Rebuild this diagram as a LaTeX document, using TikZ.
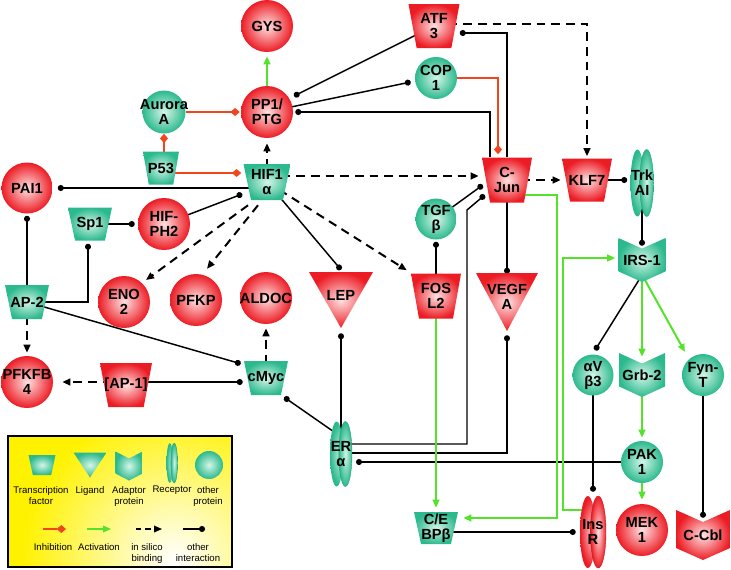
\documentclass[tikz,border=0pt]{standalone}
\usepackage{fontspec}
\setmainfont{Liberation Sans}
\usetikzlibrary{arrows.meta,calc,backgrounds}
\definecolor{redlo}{HTML}{EC1C24}
\definecolor{redhi}{HTML}{FFE2E2}
\definecolor{grnlo}{HTML}{2CB98D}
\definecolor{grnhi}{HTML}{D4F6E8}
\definecolor{inhcol}{HTML}{F0461E}
\definecolor{actcol}{HTML}{55E22A}
\definecolor{legy}{HTML}{FFF200}
\newcommand{\nl}[1]{\makebox[0pt]{#1}}
\tikzset{
  lbl/.style={font=\fontsize{11}{11.3}\selectfont\bfseries,inner sep=0pt,align=center},
  rball/.style={lbl,circle,minimum size=#1*0.75pt,inner color=redhi,outer color=redlo},
  gball/.style={lbl,circle,minimum size=#1*0.75pt,inner color=grnhi,outer color=grnlo},
  tfac/.style n args={3}{lbl,minimum width=#1*0.75pt,minimum height=#2*0.75pt,
    path picture={\shade[inner color=#3hi,outer color=#3lo]
      (path picture bounding box.north west) -- (path picture bounding box.north east)
      -- ($(path picture bounding box.south east)!.16!(path picture bounding box.south west)$)
      -- ($(path picture bounding box.south west)!.16!(path picture bounding box.south east)$) -- cycle;}},
  ligand/.style n args={3}{lbl,minimum width=#1*0.75pt,minimum height=#2*0.75pt,text depth=7pt,
    path picture={\shade[inner color=#3hi,outer color=#3lo]
      (path picture bounding box.north west) -- (path picture bounding box.north east)
      -- (path picture bounding box.south) -- cycle;}},
  adapt/.style n args={3}{lbl,minimum width=#1*0.75pt,minimum height=#2*0.75pt,
    path picture={\shade[inner color=#3hi,outer color=#3lo]
      (path picture bounding box.north west)
      -- ($(path picture bounding box.north)!.24!(path picture bounding box.south)$)
      -- (path picture bounding box.north east)
      -- ($(path picture bounding box.south east)!.24!(path picture bounding box.north east)$)
      -- (path picture bounding box.south)
      -- ($(path picture bounding box.south west)!.24!(path picture bounding box.north west)$) -- cycle;}},
  recep/.style n args={3}{lbl,minimum width=#1*0.75pt,minimum height=#2*0.75pt,
    path picture={
      \shade[inner color=#3hi,outer color=#3lo] ([xshift=-#1*0.15pt]path picture bounding box.center)
        ellipse [x radius=#1*0.225pt,y radius=#2*0.375pt];
      \shadedraw[inner color=#3hi,outer color=#3lo,draw=#3lo!85!black,line width=0.3pt]
        ([xshift=#1*0.15pt]path picture bounding box.center) ellipse [x radius=#1*0.225pt,y radius=#2*0.375pt];}},
  legbox/.style={draw=black,line width=0.8pt,minimum width=224*0.75pt,minimum height=131*0.75pt,
    path picture={\fill[legy] (path picture bounding box.south west) rectangle (path picture bounding box.north east);
      \shade[inner color=white,outer color=legy] ([shift={(41pt,-44pt)}]path picture bounding box.center) circle (115pt);}},
  legtxt/.style={font=\fontsize{7.2}{8.3}\selectfont,align=center,inner sep=0pt,anchor=north},
  inh/.style={draw=inhcol,line width=1.1pt,-{Diamond[length=7pt,width=6pt,fill=inhcol]}},
  act/.style={draw=actcol,line width=1.5pt,-{Triangle[length=6pt,width=5pt]}},
  sil/.style={draw=black,line width=1.5pt,dash pattern=on 6.5pt off 4.5pt,-{Triangle[length=6pt,width=5pt]}},
  oth/.style={draw=black,line width=1.1pt,-{Circle[length=4.5pt]}},
}
\begin{document}
\begin{tikzpicture}[x=0.75pt,y=-0.75pt]
\useasboundingbox (0,0) rectangle (731,569);
\node[rball=52] (gys) at (267,26) {\nl{GYS}};
\node[rball=52] (pp1) at (267,112) {\nl{PP1/}\\\nl{PTG}};
\node[gball=43] (aur) at (164,112) {\nl{Aurora}\\\nl{A}};
\node[tfac={36}{33}{grn}] (p53) at (161,168) {\nl{P53}};
\node[tfac={47}{36}{grn}] (hif) at (267,182) {\nl{HIF1}\\\nl{α}};
\node[rball=51] (pai) at (27,188) {\nl{PAI1}};
\node[tfac={44}{33}{grn}] (sp1) at (90,224) {\nl{Sp1}};
\node[rball=52] (hph) at (164,224) {\nl{HIF-}\\\nl{PH2}};
\node[rball=52] (eno) at (124,302) {\nl{ENO}\\\nl{2}};
\node[rball=52] (pfkp) at (196,300) {\nl{PFKP}};
\node[rball=52] (aldoc) at (266,298) {\nl{ALDOC}};
\node[ligand={64}{56}{red}] (lep) at (341,300) {\nl{LEP}};
\node[tfac={50}{45}{red}] (fos) at (436,296) {\nl{FOS}\\\nl{L2}};
\node[ligand={62}{58}{red}] (vegf) at (507,302) {\nl{VEGF}\\\nl{A}};
\node[gball=41] (tgf) at (436,219) {\nl{TGF}\\\nl{β}};
\node[tfac={50}{45}{red}] (cjun) at (507,180) {\nl{C-}\\\nl{Jun}};
\node[tfac={50}{43}{red}] (klf) at (587,180) {\nl{KLF7}};
\node[recep={23}{67}{grn}] (trk) at (642,183) {\nl{Trk}\\\nl{AI}};
\node[adapt={47}{44}{grn}] (irs) at (642,260) {\nl{IRS-1}};
\node[tfac={51}{44}{red}] (atf) at (434,26) {\nl{ATF}\\\nl{3}};
\node[gball=42] (cop) at (436,78) {\nl{COP}\\\nl{1}};
\node[tfac={44}{34}{grn}] (ap2) at (27,302) {\nl{AP-2}};
\node[rball=52] (pfkfb) at (27,382) {\nl{PFKFB}\\\nl{4}};
\node[tfac={52}{44}{red}] (ap1) at (126,385) {\nl{[AP-1]}};
\node[tfac={44}{34}{grn}] (cmyc) at (266,378) {\nl{cMyc}};
\node[recep={22}{65}{grn}] (era) at (341,454) {\nl{ER}\\\nl{α}};
\node[gball=41] (av) at (593,375) {\nl{αV}\\\nl{β3}};
\node[adapt={46}{44}{grn}] (grb) at (642,375) {\nl{Grb-2}};
\node[gball=42] (fyn) at (703,375) {\nl{Fyn-}\\\nl{T}};
\node[gball=42] (pak) at (642,462) {\nl{PAK}\\\nl{1}};
\node[rball=52] (mek) at (642,530) {\nl{MEK}\\\nl{1}};
\node[recep={26}{72}{red}] (insr) at (593,532) {\nl{Ins}\\\nl{R}};
\node[adapt={54}{50}{red}] (ccbl) at (703,535) {\nl{C-Cbl}};
\node[tfac={44}{32}{grn}] (ceb) at (436,528) {\nl{C/E}\\\nl{BPβ}};
\begin{scope}[on background layer]
\draw[oth] ($(hif.center)+(0,6)$) -- ($(pai.east)+(5,0)$);
\draw[oth] (hph.center) -- ($(hif.west)+(-1,12)$);
\draw[oth] (sp1.center) -- ($(hph.west)+(-3,0)$);
\draw[oth] (hif.center) -- ($(lep.north)+(0,-2)$);
\draw[oth] (atf.center) -- ($(pp1.center)+(27,-16)$);
\draw[oth] (pp1.center) -- ($(cop.west)+(-4,4)$);
\draw[oth] ($(cjun.north)+(-17,0)$) |- ($(pp1.east)+(2,0)$);
\draw[oth] (cjun.north) |- ($(atf.east)+(0,7)$);
\draw[oth] (klf.center) -- ($(klf.center -| trk.west)+(-3,0)$);
\draw[oth] (trk.center) -- ($(irs.north)+(0,8)$);
\draw[oth] (tgf.center) -- ($(cjun.west)+(1,5)$);
\draw[oth] ($(era.center)+(0,-10)$) -| ($(cjun.center)+(-40,30)$) -- ($(cjun.west)+(3,15)$);
\draw[oth] ($(era.center)+(0,-1)$) -| ($(vegf.south)+(0,4)$);
\draw[oth] (pak.center) -- ($(era.center)+(15,8)$);
\draw[oth] (era.center) -- ($(lep.south)+(0,5)$);
\draw[oth] ($(era.center)+(-4,-20)$) -- ($(cmyc.south east)+(-4,2)$);
\draw[oth] (cjun.center) -- ($(vegf.north)+(0,1)$);
\draw[oth] (fos.center) -- ($(tgf.south)+(0,2)$);
\draw[oth] ($(irs.south)+(-2,-4)$) -- ($(av.north)+(2,-4)$);
\draw[oth] (av.center) -- ($(insr.north)+(0,-4)$);
\draw[oth] (fyn.center) -- ($(ccbl.north)+(0,8)$);
\draw[oth] ($(ceb.center)+(0,4)$) -- ($(insr.west)+(-4,0)$);
\draw[oth] (ap2.center) -- ($(pai.south)+(0,2)$);
\draw[oth] (ap2.center) -| ($(sp1.south)+(-2,3)$);
\draw[oth] (ap2.center) -- ($(cmyc.north west)+(-3,3)$);
\draw[oth] ($(ap1.center)+(0,-3)$) -- ($(cmyc.west)+(-1,4)$);
\draw[sil] (hif.center) -- ($(pp1.south)+(0,5)$);
\draw[sil] ($(hif.center)+(0,-6)$) -- ($(cjun.west)+(-3,-4)$);
\draw[sil] ($(hif.south)+(-19,5)$) -- ($(eno.center)+(22,-22)$);
\draw[sil] ($(hif.south)+(-9,5)$) -- ($(pfkp.north)+(11,-5)$);
\draw[sil] (hif.center) -- ($(fos.north west)+(-4,-3)$);
\draw[sil] ($(atf.center)+(0,-2)$) -| ($(klf.north)+(0,-2)$);
\draw[sil] (cjun.center) -- ($(klf.west)+(-1,0)$);
\draw[sil] (ap2.center) -- ($(pfkfb.north)+(0,-3)$);
\draw[sil] ($(ap1.center)+(0,-3)$) -- ($(pfkfb.east)+(9,0)$);
\draw[sil] (cmyc.center) -- ($(aldoc.south)+(0,4)$);
\draw[inh] (aur.east) -- ($(pp1.west)+(-1,0)$);
\draw[inh] (p53.center -| aur.south) -- (aur.south);
\draw[inh] ($(p53.center)+(0,5)$) -- ($(hif.west)+(-2,-9)$);
\draw[inh] (cop.center) -| ($(cjun.north)+(-9,-3)$);
\draw[act] (pp1) -- ($(gys.south)+(0,4)$);
\draw[act] (fos.center) -- ($(ceb.north)+(0,-4)$);
\draw[act] ($(cjun.center)+(0,15)$) -| ($(ceb.center)+(121,-10)$) -- ($(ceb.east)+(5,-10)$);
\draw[act] ($(insr.center)+(0,-22)$) -| ($(irs.west)+(-55,-2)$) -- ($(irs.west)+(-3,-2)$);
\draw[act] ($(irs.south)+(0,-4)$) -- ($(grb.north)+(0,4)$);
\draw[act] ($(irs.south)+(2,-4)$) -- ($(fyn.north west)+(-3,-8)$);
\draw[act] (grb.center) -- ($(pak.north)+(0,-3)$);
\draw[act] (pak.center) -- ($(mek.north)+(0,-4)$);
\end{scope}
% legend
\node[legbox] (legend) at (120,501.5) {};
\node[tfac={27}{20}{grn}] (lgtf) at (42,465) {};
\node[ligand={33}{25}{grn}] (lglig) at (90,465) {};
\node[adapt={27}{29}{grn}] (lgadp) at (129,466) {};
\node[recep={11}{40}{grn}] (lgrec) at (172,463) {};
\node[gball=28] (lgoth) at (209,465) {};
\node[legtxt] (ltf) at (41,486) {Transcription\\factor};
\node[legtxt] (llig) at (90,486) {Ligand};
\node[legtxt] (ladp) at (129,486) {Adaptor\\protein};
\node[legtxt] (lrec) at (172,486) {Receptor};
\node[legtxt] (loth) at (208,486) {other\\protein};
\coordinate (inh1) at (43,529); \coordinate (inh2) at (66,529);
\coordinate (act1) at (87,529); \coordinate (act2) at (111,529);
\coordinate (sil1) at (136,529); \coordinate (sil2) at (162,529);
\coordinate (oth1) at (183,529); \coordinate (oth2) at (205,529);
\draw[inh,line width=0.8pt] (inh1) -- (inh2);
\draw[act,line width=1pt] (act1) -- (act2);
\draw[sil,line width=1pt,dash pattern=on 4pt off 3pt] (sil1) -- (sil2);
\draw[oth,line width=0.8pt] (oth1) -- (oth2);
\node[legtxt] (linh) at (53,543) {Inhibition};
\node[legtxt] (lact) at (99,543) {Activation};
\node[legtxt] (lsil) at (147,543) {in silico\\binding};
\node[legtxt] (lint) at (198,543) {other\\interaction};
\end{tikzpicture}
\end{document}
